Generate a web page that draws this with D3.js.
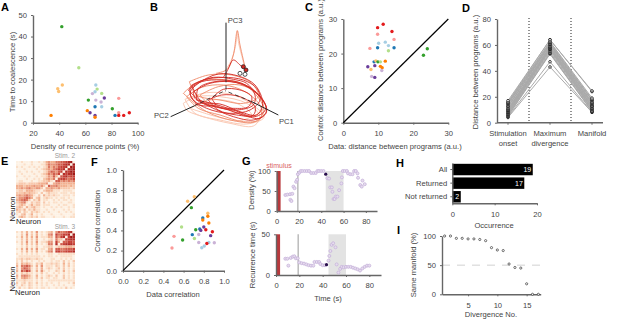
<!DOCTYPE html>
<html>
<head>
<meta charset="utf-8">
<script src="https://cdn.jsdelivr.net/npm/d3@7"></script>
<style>
html, body { margin: 0; padding: 0; background: #fff; }
svg { display: block; }
text { font-family: "Liberation Sans", Arial, sans-serif; fill: #444; }
.letter { font-size: 11px; font-weight: bold; fill: #000; }
.tick text { font-size: 7.6px; fill: #444; font-family: "Liberation Sans", Arial, sans-serif; }
.tick line { stroke: #666; }
.domain { stroke: #666; stroke-width: 1.4; }
</style>
</head>
<body>
<div id="chart"></div>
<script>
// group index = position in d3.schemePaired
var aDensity = [42, 55, 42.4, 38.9, 39.6, 33.8, 68, 69, 72.5, 67.4, 65.4, 62.3, 68, 74.5, 72, 67.4, 72.5, 80.6, 85.5, 61.5, 63.6, 67.4, 67.4, 82.7, 85.5, 85.5, 89.3, 93.6],
    aTime = [44.6, 25.5, 17.5, 15.8, 14.5, 3.4, 17.5, 15.6, 13.6, 14.4, 13.5, 10.5, 10.5, 11.5, 9.6, 7.4, 7.4, 6.5, 11.3, 5.6, 4.6, 3.4, 2.5, 3.4, 4.6, 3.4, 3.4, 4.6],
    aGroup = [3, 2, 6, 6, 6, 7, 0, 2, 2, 0, 8, 3, 8, 9, 8, 1, 0, 3, 4, 7, 9, 9, 7, 1, 4, 5, 5, 5];

var cData = [9.8, 11.4, 13.9, 9.8, 14.5, 7.6, 10.1, 12, 12.9, 9.8, 14.5, 12.9, 24, 22.9, 12, 8.8, 9.3, 9.9, 10.6, 10.6, 11.1, 7.9, 7, 9, 11, 8.1, 9],
    cControl = [27.5, 28.5, 26.4, 25.6, 24.1, 21.5, 23, 23.3, 22.3, 21.7, 21.7, 20.8, 21.4, 19.5, 17.8, 17.6, 17.9, 17.6, 17.6, 16.3, 15.9, 15.4, 16.2, 16.5, 15.1, 13.4, 13.1],
    cGroup = [5, 5, 5, 4, 4, 4, 0, 0, 0, 1, 1, 2, 3, 3, 7, 1, 6, 3, 2, 7, 7, 6, 9, 9, 8, 8, 9];

var dLabels = ["Stimulation|onset", "Maximum|divergence", "Manifold"],
    dOnset = [4, 4.5, 5, 5.5, 6, 6.5, 7, 7.5, 8, 8.5, 9, 9.5, 10, 10.5, 11, 12, 12.5, 13, 14, 14.5, 15, 15.5, 16, 17],
    dPeak = [43, 47, 53, 53.5, 54, 55, 56, 56.5, 57, 57, 57.5, 58, 58, 58.5, 59, 60, 60, 60.5, 61, 61, 62, 62.5, 64, 64],
    dEnd = [8, 8, 8.5, 9, 9, 10, 10.5, 11, 11, 12, 12.5, 13, 13, 14, 14.5, 15, 15.5, 16, 17, 17.5, 18, 19, 24, 24.5];

var fData = [0.706, 0.64, 0.677, 0.84, 0.84, 0.79, 0.79, 0.85, 0.58, 0.8, 0.76, 0.72, 0.77, 0.82, 0.885, 0.75, 0.686, 0.868, 0.505, 0.707, 0.59, 0.75, 0.85, 0.904, 0.83, 0.805, 0.78, 0.485],
    fControl = [0.735, 0.69, 0.626, 0.57, 0.54, 0.523, 0.503, 0.473, 0.434, 0.434, 0.414, 0.407, 0.4, 0.407, 0.387, 0.36, 0.358, 0.348, 0.341, 0.32, 0.305, 0.28, 0.28, 0.278, 0.27, 0.245, 0.228, 0.225],
    fGroup = [6, 6, 3, 6, 7, 1, 7, 7, 2, 9, 1, 3, 9, 5, 5, 8, 1, 9, 4, 2, 3, 8, 0, 8, 5, 0, 0, 4];

var gTimeTop = [7.8, 9.6, 12, 14, 12.3, 13.2, 15, 16, 17.4, 18.3, 19, 20.4, 21.5, 23, 25, 27, 29, 31, 33, 35, 36.5, 38, 40, 42, 45.5, 47, 48, 49.5, 50, 51, 52, 53, 54.5, 56, 58, 58.5, 59.3, 61, 63, 64, 66, 68, 69.5, 71, 72.5, 73, 75, 76.3, 77, 79],
    gDensity = [40, 41, 42, 43, 28, 25, 61, 57, 73, 78, 92, 96, 100, 100, 100, 100, 100, 95, 95, 95, 100, 100, 100, 100, 82, 81, 59, 59, 48, 30, 30, 36, 36, 52, 69, 84, 100, 100, 100, 94, 92, 92, 100, 100, 94, 83, 65, 61, 76, 67],
    gTimeBottom = [8, 9.7, 10.6, 12.6, 14.3, 15.7, 17, 18.6, 20, 22, 24, 26, 28, 30, 32, 33, 35, 37, 38, 40, 42, 45, 45.7, 46.6, 47.7, 49, 51, 52, 53.5, 55, 56.3, 58, 60, 62, 64, 66, 68, 70, 72, 74, 76, 78, 80],
    gRecurrence = [20, 20, 11.5, 21, 22.5, 23, 20.5, 20.5, 15.5, 14.5, 14, 13, 12, 11.5, 11.5, 16, 16, 16, 13.5, 12, 12, 17.6, 23.4, 29.5, 37, 39, 34, 13, 3, 7.5, 10, 9.5, 10, 10, 10, 9, 8, 7, 5.5, 8, 10, 11.5, 11.5],
    gMarkTop = [44, 92],
    gMarkBottom = [43.3, 12.7];

var hLabels = ["All", "Returned", "Not returned"],
    hCounts = [19, 17, 2];

var iDivergence = [1, 2, 3, 4, 5, 6, 7, 8, 9, 10, 11, 12, 13, 14, 15, 16, 17],
    iSame = [100, 100, 96, 96, 95, 95, 94, 92, 80, 76, 75, 52, 46, 45, 18, 0, 0];

// correlation matrices read by eye, one digit per cell (0 pale, 9 dark)
var stim2 = [
    "001000100101343355667890",
    "000100100011354456678809",
    "101001010101253546778098",
    "000100001012343567780889",
    "010010100101246546708798",
    "001000010012354657087889",
    "100101001011243630678677",
    "000010010102343506776567",
    "011000100112231066454545",
    "122212222333400344333333",
    "333233343342064453333232",
    "334345334420334334222212",
    "122133321102333111011110",
    "222323221020121110111011",
    "343454310203121211011101",
    "244565302301211010110100",
    "345652021301100101011010",
    "234510212202010110100110",
    "123201312201110001011001",
    "232031231101001010100101",
    "321302131100100100010100",
    "120210212101010001001010",
    "102301301010001000100001",
    "023201212011000100010011"],
    stim3 = [
    "102030204010123046556780",
    "002040203010145075677809",
    "103030304011133064780798",
    "002030203001012052207788",
    "102040204011244073066776",
    "002030203010155080678887",
    "001020102001122012223332",
    "103040304011034066556667",
    "002030203010245077667778",
    "101010101000011001111111",
    "011111111101011010111110",
    "112122112110001100101010",
    "102010100101001011020102",
    "203232102130112121030201",
    "305565203040111021020201",
    "204654102030121012020101",
    "306576103041010021030102",
    "102121101020100101010101",
    "304543103010121020020101",
    "203432102020110110020101",
    "111211101010011111111111",
    "201202102010101001000102",
    "102102101010100101010001",
    "020102101011010010102010"];

var W = 617, H = 320;
var svg = d3.select("#chart").append("svg").attr("width", W).attr("height", H);
var paired = d3.scaleOrdinal().domain(d3.range(12)).range(d3.schemePaired);

function label(txt, x, y, opts) {
    opts = opts || {};
    var t = svg.append("text")
        .attr("font-size", opts.size || 7.6)
        .attr("text-anchor", opts.anchor || "middle")
        .text(txt);
    if (opts.rotate) {
        t.attr("transform", "translate(" + x + "," + y + ") rotate(-90)");
    } else {
        t.attr("x", x).attr("y", y);
    }
    if (opts.fill) { t.style("fill", opts.fill); }
    return t;
}

function letter(txt, x, y) {
    svg.append("text").attr("class", "letter").attr("x", x).attr("y", y).text(txt);
}

function drawX(scale, y, ticks) {
    return svg.append("g").attr("transform", "translate(0," + y + ")")
        .call(d3.axisBottom(scale).tickValues(ticks).tickSize(2).tickSizeOuter(0).tickPadding(6));
}

function drawY(scale, x, ticks) {
    return svg.append("g").attr("transform", "translate(" + x + ",0)")
        .call(d3.axisLeft(scale).tickValues(ticks).tickSize(2).tickSizeOuter(0).tickPadding(4));
}

function dots(xs, ys, groups, xScale, yScale, r) {
    svg.append("g").selectAll("circle").data(xs).enter().append("circle")
        .attr("cx", function (d) { return xScale(d); })
        .attr("cy", function (d, i) { return yScale(ys[i]); })
        .attr("r", r)
        .attr("fill", function (d, i) { return paired(groups[i]); });
}

function diagonal(xScale, yScale, top) {
    svg.append("line")
        .attr("x1", xScale(0)).attr("y1", yScale(0))
        .attr("x2", xScale(top)).attr("y2", yScale(top))
        .attr("stroke", "#000").attr("stroke-width", 1.2);
}

// A
function panelA() {
    var x = d3.scaleLinear().domain([20, 100]).range([33, 137.7]),
        y = d3.scaleLinear().domain([0, 50]).range([122.7, 15]);
    drawX(x, y(0), [20, 40, 60, 80, 100]);
    drawY(y, x(20), [0, 10, 20, 30, 40, 50]);
    dots(aDensity, aTime, aGroup, x, y, 1.7);
    letter("A", 1, 11);
    label("Density of recurrence points (%)", 85, 149);
    label("Time to coalescence (s)", 15, 72, {rotate: true});
}

// B: trajectory, in a 510x450 view of the panel
var trajDark = [
    [[150, 262], [190, 240], [250, 232], [310, 240], [350, 265], [360, 300], [330, 330], [270, 340], [200, 325], [155, 295], [150, 262]],
    [[160, 275], [210, 250], [270, 245], [330, 262], [375, 310], [378, 340], [340, 360], [280, 350], [210, 320], [165, 295], [160, 275]],
    [[170, 310], [150, 280], [175, 250], [235, 222], [295, 228], [345, 255], [368, 310], [350, 345], [300, 335], [240, 312], [170, 310]],
    [[215, 295], [250, 268], [300, 270], [335, 290], [325, 320], [280, 325], [235, 320], [215, 295]],
    [[155, 255], [220, 232], [280, 238], [320, 250], [345, 285], [340, 315], [290, 330], [225, 320], [180, 300], [155, 255]],
    [[145, 270], [185, 245], [245, 240], [305, 250], [355, 285], [380, 330], [360, 355], [310, 345], [250, 325], [190, 310], [145, 270]],
    [[170, 300], [215, 310], [280, 330], [345, 350], [378, 325], [350, 280], [290, 248], [225, 245], [175, 265], [170, 300]],
    [[205, 300], [245, 285], [300, 290], [345, 320], [340, 345], [290, 345], [235, 330], [205, 300]],
    [[165, 312], [195, 318], [228, 316]],
    [[250, 232], [262, 212], [280, 180], [300, 195], [312, 205]]
];
var trajMid = [
    [[140, 290], [185, 262], [250, 255], [315, 275], [362, 320], [360, 358], [310, 365], [240, 345], [175, 325], [140, 290]],
    [[180, 285], [235, 260], [300, 255], [350, 280], [370, 325], [330, 350], [270, 330], [205, 310], [180, 285]],
    [[228, 220], [262, 208], [280, 165], [292, 92], [300, 135], [316, 205]],
    [[148, 245], [205, 225], [275, 225], [335, 250], [355, 290], [310, 310], [240, 300], [170, 285], [148, 245]],
    [[130, 280], [175, 245], [240, 238], [320, 258], [372, 330], [345, 365], [280, 362], [200, 335], [130, 280]]
];
var trajLight = [
    [[130, 310], [170, 290], [240, 290], [320, 310], [360, 350], [340, 378], [270, 370], [190, 350], [140, 330], [130, 310]],
    [[135, 298], [200, 278], [280, 285], [345, 320], [372, 352], [320, 372], [240, 360], [165, 340], [135, 298]],
    [[150, 325], [210, 300], [290, 310], [335, 345], [300, 362], [230, 350], [150, 325]],
    [[292, 92], [296, 130], [306, 170], [316, 210]],
    [[292, 92], [286, 140], [272, 185], [255, 212]]
];
var trajHeads = [[310, 200], [318, 210], [300, 220], [315, 223]];

function panelB() {
    var x = d3.scaleLinear().domain([0, 510]).range([140, 310]),
        y = d3.scaleLinear().domain([0, 450]).range([0, 150]),
        line = d3.line().x(function (d) { return x(d[0]); }).y(function (d) { return y(d[1]); })
            .curve(d3.curveCatmullRom.alpha(0.5));
    function loops(list, color, w) {
        svg.append("g").selectAll("path").data(list).enter().append("path")
            .attr("d", line).attr("fill", "none")
            .attr("stroke", color).attr("stroke-width", w);
    }
    loops(trajLight, "#fbc9b4", 1);
    loops(trajMid, "#ef8a6a", 0.9);
    loops(trajDark, "#d42a24", 0.9);
    svg.append("g").selectAll("circle").data(trajHeads).enter().append("circle")
        .attr("cx", function (d) { return x(d[0]); })
        .attr("cy", function (d) { return y(d[1]); })
        .attr("r", 2)
        .attr("fill", function (d, i) { return i < 2 ? "#d42a24" : "#fff"; })
        .attr("stroke", "#111").attr("stroke-width", 0.7);
    // PC axes: solid outside the cloud, dashed through it
    var axes = [
        {from: [258, 68], to: [258, 235], end: [258, 272]},
        {from: [92, 350], to: [162, 318], end: [255, 272]},
        {from: [415, 345], to: [335, 305], end: [255, 272]}
    ];
    axes.forEach(function (a) {
        svg.append("line").attr("x1", x(a.from[0])).attr("y1", y(a.from[1]))
            .attr("x2", x(a.to[0])).attr("y2", y(a.to[1]))
            .attr("stroke", "#222").attr("stroke-width", 1);
        svg.append("line").attr("x1", x(a.to[0])).attr("y1", y(a.to[1]))
            .attr("x2", x(a.end[0])).attr("y2", y(a.end[1]))
            .attr("stroke", "#222").attr("stroke-width", 0.8)
            .attr("stroke-dasharray", "4,3");
    });
    letter("B", 150, 11);
    label("PC3", x(263), y(70), {anchor: "start"});
    label("PC2", x(42), y(354), {anchor: "start"});
    label("PC1", x(417), y(372), {anchor: "start"});
}

// C
function panelC() {
    var x = d3.scaleLinear().domain([0, 30]).range([343.3, 448.3]),
        y = d3.scaleLinear().domain([0, 30]).range([122.7, 19]);
    drawX(x, y(0), [0, 10, 20, 30]);
    drawY(y, x(0), [0, 10, 20, 30]);
    diagonal(x, y, 30);
    dots(cData, cControl, cGroup, x, y, 1.7);
    letter("C", 305, 11);
    label("Data: distance between programs (a.u.)", 395, 149);
    label("Control: distance between programs (a.u.)", 323, 70, {rotate: true});
}

// D
function panelD() {
    var x = d3.scalePoint().domain(dLabels).range([508, 592]),
        y = d3.scaleLinear().domain([0, 80]).range([122.7, 19]),
        line = d3.line().x(function (d) { return x(d.k); }).y(function (d) { return y(d.v); }),
        rows = dOnset.map(function (d, i) {
            return [{k: dLabels[0], v: d}, {k: dLabels[1], v: dPeak[i]}, {k: dLabels[2], v: dEnd[i]}];
        });
    svg.append("line").attr("x1", 497).attr("x2", 603).attr("y1", y(0)).attr("y2", y(0))
        .attr("stroke", "#666").attr("stroke-width", 1.4);
    svg.append("g").selectAll("line").data(dLabels).enter().append("line")
        .attr("x1", function (d) { return x(d); }).attr("x2", function (d) { return x(d); })
        .attr("y1", y(0)).attr("y2", y(0) + 2).attr("stroke", "#666");
    drawY(y, 497, [0, 20, 40, 60, 80]);
    [529, 571].forEach(function (px) {
        svg.append("line").attr("x1", px).attr("x2", px).attr("y1", 18).attr("y2", 122)
            .attr("stroke", "#222").attr("stroke-width", 1).attr("stroke-dasharray", "1,2");
    });
    svg.append("g").selectAll("path").data(rows).enter().append("path")
        .attr("d", line).attr("fill", "none").attr("stroke", "#aaa").attr("stroke-width", 1);
    rows.forEach(function (r) {
        svg.append("g").selectAll("circle").data(r).enter().append("circle")
            .attr("cx", function (d) { return x(d.k); })
            .attr("cy", function (d) { return y(d.v); })
            .attr("r", 1.3).attr("fill", "#fff").attr("stroke", "#111").attr("stroke-width", 0.8);
    });
    dLabels.forEach(function (d) {
        d.split("|").forEach(function (part, i) {
            label(part, x(d), 136 + i * 10);
        });
    });
    letter("D", 462, 12);
    label("Distance between programs (a.u.)", 478, 72, {rotate: true});
}

// E
function heatmap(rows, x0, y0, w, h) {
    var cols = d3.range(rows[0].length),
        x = d3.scaleBand().domain(cols).range([x0, x0 + w]),
        y = d3.scaleBand().domain(d3.range(rows.length)).range([y0, y0 + h]),
        color = d3.scaleLinear().domain([0, 1, 3, 5, 7, 9])
            .range(["#fdf1e3", "#fbdfc8", "#f2b08f", "#dd7a62", "#c53f35", "#a01a18"]);
    rows.forEach(function (row, r) {
        svg.append("g").selectAll("rect").data(cols).enter().append("rect")
            .attr("x", function (c) { return x(c); })
            .attr("y", y(r))
            .attr("width", x.bandwidth())
            .attr("height", y.bandwidth())
            .attr("fill", function (c) { return color(+row[c]); });
    });
}

function panelE() {
    heatmap(stim2, 16, 161, 59, 57);
    heatmap(stim3, 16, 231, 59, 58);
    letter("E", 1, 165);
    label("Stim. 2", 75, 158, {anchor: "end", fill: "#999", size: 6.5});
    label("Stim. 3", 75, 229, {anchor: "end", fill: "#999", size: 6.5});
    label("Neuron", 15, 209, {rotate: true, fill: "#222"});
    label("Neuron", 16, 224, {anchor: "start", fill: "#222"});
    label("Neuron", 15, 279, {rotate: true, fill: "#222"});
    label("Neuron", 15, 295, {anchor: "start", fill: "#222"});
}

// F
function panelF() {
    var x = d3.scaleLinear().domain([0, 1]).range([123, 224]),
        y = d3.scaleLinear().domain([0, 1]).range([270.7, 170]),
        ticks = [0, 0.2, 0.4, 0.6, 0.8, 1];
    drawX(x, y(0), ticks);
    drawY(y, x(0), ticks);
    diagonal(x, y, 1);
    dots(fData, fControl, fGroup, x, y, 1.7);
    letter("F", 91, 166);
    label("Data correlation", 173, 297);
    label("Control correlation", 100, 221, {rotate: true});
}

// G
function timeStrip(xs, ys, mark, x, y, shade) {
    var top = y.range()[1];
    svg.append("rect").attr("x", x(shade[0])).attr("y", top)
        .attr("width", x(shade[1]) - x(shade[0])).attr("height", y(0) - top)
        .attr("fill", "#e3e3e3");
    svg.append("rect").attr("x", x(0)).attr("y", top)
        .attr("width", x(3.5) - x(0)).attr("height", y(0) - top)
        .attr("fill", "#b8393c");
    svg.append("line").attr("x1", x(19)).attr("x2", x(19)).attr("y1", top).attr("y2", y(0))
        .attr("stroke", "#aaa").attr("stroke-width", 1.2);
    drawX(x, y(0), [0, 20, 40, 60, 80]);
    drawY(y, x(0), y.domain()[1] === 100 ? [0, 50, 100] : [0, 50]);
    svg.append("g").selectAll("circle").data(xs).enter().append("circle")
        .attr("cx", function (d) { return x(d); })
        .attr("cy", function (d, i) { return y(ys[i]); })
        .attr("r", 1.5)
        .attr("fill", "#e6dcee").attr("stroke", "#c6b2da").attr("stroke-width", 0.8);
    svg.append("circle").attr("cx", x(mark[0])).attr("cy", y(mark[1])).attr("r", 1.6).attr("fill", "#2a0f4d");
}

function panelG() {
    var xTop = d3.scaleLinear().domain([0, 90]).range([276.7, 377]),
        yTop = d3.scaleLinear().domain([0, 100]).range([211, 171]),
        xBot = d3.scaleLinear().domain([0, 90]).range([276, 381]),
        yBot = d3.scaleLinear().domain([0, 50]).range([275, 234.3]);
    timeStrip(gTimeTop, gDensity, gMarkTop, xTop, yTop, [44, 60]);
    timeStrip(gTimeBottom, gRecurrence, gMarkBottom, xBot, yBot, [45, 60]);
    letter("G", 242, 165);
    label("stimulus", 279, 168, {fill: "#d9615f", size: 7});
    label("Density (%)", 254, 190, {rotate: true});
    label("Recurrence time (s)", 255, 255, {rotate: true});
    label("Time (s)", 328, 301);
}

// H
function panelH() {
    var x = d3.scaleLinear().domain([0, 20]).range([452.3, 537]),
        y = d3.scaleBand().domain(hLabels).range([163, 203.3]).paddingInner(0.16).paddingOuter(0.06);
    svg.append("g").selectAll("rect").data(hLabels).enter().append("rect")
        .attr("x", x(0)).attr("y", function (d) { return y(d); })
        .attr("width", function (d, i) { return x(hCounts[i]) - x(0); })
        .attr("height", y.bandwidth())
        .attr("fill", "#000");
    svg.append("g").selectAll("text").data(hLabels).enter().append("text")
        .attr("x", function (d, i) { return x(hCounts[i]) - 1.5; })
        .attr("y", function (d) { return y(d) + y.bandwidth() / 2 + 2.6; })
        .attr("text-anchor", "end").attr("font-size", 7)
        .style("fill", "#fff")
        .text(function (d, i) { return hCounts[i]; });
    drawX(x, 203.3, [0, 10, 20]);
    svg.append("g").attr("transform", "translate(452.3,0)")
        .call(d3.axisLeft(y).tickSize(2).tickSizeOuter(0).tickPadding(3));
    letter("H", 396, 167);
    label("Occurrence", 494, 228);
}

// I
function panelI() {
    var x = d3.scaleLinear().domain([0.55, 17.4]).range([442, 540.7]),
        y = d3.scaleLinear().domain([0, 100]).range([294.3, 236]);
    svg.append("line").attr("x1", x(0.55)).attr("x2", 542).attr("y1", y(50)).attr("y2", y(50))
        .attr("stroke", "#c4c4c4").attr("stroke-width", 0.8).attr("stroke-dasharray", "8,7");
    drawX(x, y(0), [5, 10, 15]);
    drawY(y, x(0.55), [0, 50, 100]);
    svg.append("g").selectAll("circle").data(iDivergence).enter().append("circle")
        .attr("cx", function (d) { return x(d); })
        .attr("cy", function (d, i) { return y(iSame[i]); })
        .attr("r", 1.1).attr("fill", "#fff").attr("stroke", "#333").attr("stroke-width", 0.7);
    letter("I", 397, 234);
    label("Divergence No.", 491, 317);
    label("Same manifold (%)", 416, 265, {rotate: true});
}

panelA();
panelB();
panelC();
panelD();
panelE();
panelF();
panelG();
panelH();
panelI();
</script>
</body>
</html>
